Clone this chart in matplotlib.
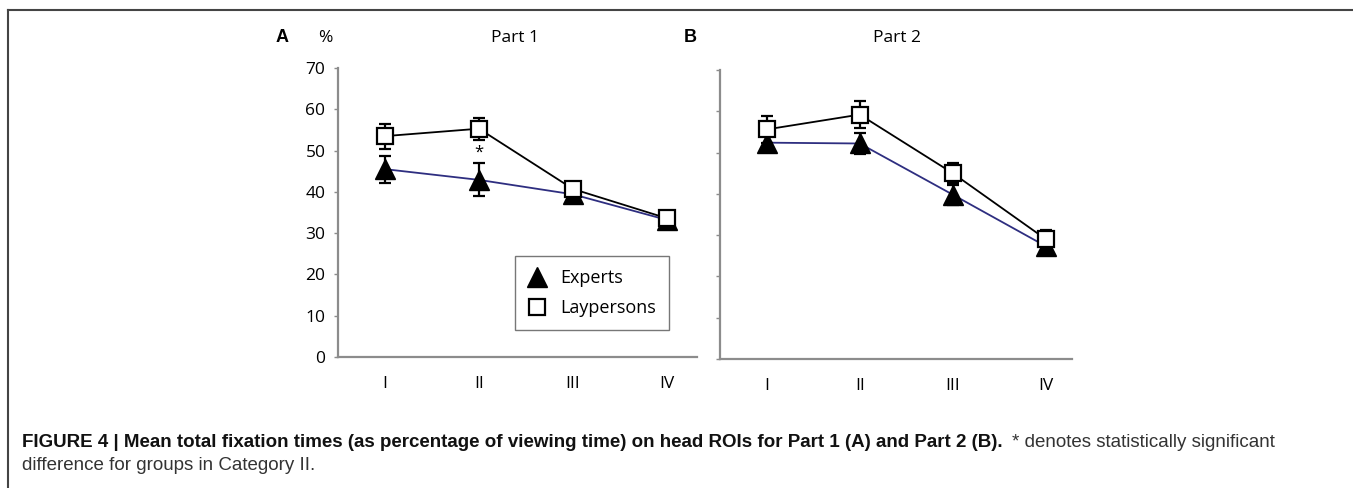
import matplotlib
matplotlib.use("Agg")
from matplotlib import pyplot as plt
from matplotlib.lines import Line2D

categories = ["I", "II", "III", "IV"]

# Part 1
p1_experts = [45.5, 42.9, 39.4, 33.2]
p1_experts_err = [3.3, 4.0, 1.0, 0.7]
p1_lay = [53.5, 55.3, 40.7, 33.6]
p1_lay_err = [3.0, 2.7, 1.0, 0.8]

# Part 2
p2_experts = [52.4, 52.2, 39.8, 27.3]
p2_experts_err = [2.3, 2.6, 2.4, 1.0]
p2_lay = [55.6, 59.2, 45.0, 29.0]
p2_lay_err = [3.2, 3.2, 2.4, 2.2]

W, H = 1353, 488
FONT = ["Open Sans", "DejaVu Sans"]
SPINE = "#8c8c8c"
NAVY = "#2e2e80"


def px(x0, y_top, x1, y_bot):
    return [x0 / W, 1 - y_bot / H, (x1 - x0) / W, (y_bot - y_top) / H]


def draw_panel(ax, experts, experts_err, lay, lay_err, xmax, labels):
    x = list(range(1, len(categories) + 1))
    ax.errorbar(x, experts, yerr=experts_err, color=NAVY, lw=1.3, ecolor="black",
                elinewidth=1.6, capsize=4, capthick=1.6, marker="^", ms=14,
                mfc="black", mec="black", zorder=3)
    ax.errorbar(x, lay, yerr=lay_err, color="black", lw=1.3, ecolor="black",
                elinewidth=1.6, capsize=4, capthick=1.6, marker="s", ms=11,
                mfc="white", mec="black", mew=1.6, zorder=4)
    ax.set_xlim(0.5, xmax)
    ax.set_ylim(0, 70)
    ax.set_yticks(range(0, 71, 10))
    ax.set_xticks(x)
    ax.set_xticklabels(categories, fontsize=12.5, family=FONT)
    ax.tick_params(axis="x", length=0, pad=14)
    ax.tick_params(axis="y", length=3, width=1, color=SPINE, direction="out", pad=6)
    if labels:
        ax.set_yticklabels([str(v) for v in range(0, 71, 10)], fontsize=12.5, family=FONT)
    else:
        ax.set_yticklabels([])
    for s in ["top", "right"]:
        ax.spines[s].set_visible(False)
    for s in ["left", "bottom"]:
        ax.spines[s].set_color(SPINE)
        ax.spines[s].set_linewidth(1.6)
    ax.set_facecolor("none")


def main():
    fig = plt.figure(figsize=(W / 100, H / 100), dpi=100)

    ax1 = fig.add_axes(px(338, 68, 697, 357))
    draw_panel(ax1, p1_experts, p1_experts_err, p1_lay, p1_lay_err, 4.32, True)
    ax1.text(2, 49.4, "*", ha="center", va="center", fontsize=12, family=FONT)

    ax2 = fig.add_axes(px(720, 70, 1072, 359))
    draw_panel(ax2, p2_experts, p2_experts_err, p2_lay, p2_lay_err, 4.28, False)

    handles = [
        Line2D([], [], ls="none", marker="^", ms=14, mfc="black", mec="black"),
        Line2D([], [], ls="none", marker="s", ms=11, mfc="white", mec="black", mew=1.6),
    ]
    leg = ax1.legend(handles, ["Experts", "Laypersons"], loc="lower right",
                     bbox_to_anchor=(0.922, 0.093), borderaxespad=0, frameon=True,
                     fancybox=False, prop={"family": FONT, "size": 13},
                     handlelength=1.0, handletextpad=0.8, borderpad=0.7,
                     labelspacing=0.7)
    leg.get_frame().set_edgecolor("#555555")
    leg.get_frame().set_linewidth(1.0)

    # panel labels and titles
    def ftext(xp, yp, s, **kw):
        fig.text(xp / W, 1 - yp / H, s, va="center", **kw)

    ftext(282, 38, "A", ha="center", fontsize=13, fontweight="bold", family=["Liberation Sans", "DejaVu Sans"])
    ftext(325, 38, "%", ha="center", fontsize=12.5, family=FONT)
    ftext(515, 38, "Part 1", ha="center", fontsize=12.5, family=FONT)
    ftext(690, 38, "B", ha="center", fontsize=13, fontweight="bold", family=["Liberation Sans", "DejaVu Sans"])
    ftext(897, 38, "Part 2", ha="center", fontsize=12.5, family=FONT)

    # frame lines (top and left)
    fig.add_artist(Line2D([8 / W, 1], [1 - 10 / H, 1 - 10 / H], color="#444444", lw=1.5))
    fig.add_artist(Line2D([8 / W, 8 / W], [0, 1 - 10 / H], color="#444444", lw=1.5))

    # caption
    cap_font = ["Liberation Sans", "DejaVu Sans"]
    bold = fig.text(22 / W, 1 - 447 / H,
                    "FIGURE 4 | Mean total fixation times (as percentage of viewing time) "
                    "on head ROIs for Part 1 (A) and Part 2 (B).",
                    fontsize=13.5, fontweight="bold", family=cap_font, color="#111111",
                    va="baseline")
    fig.canvas.draw()
    bb = bold.get_window_extent()
    fig.text((bb.x1 + 9) / W, 1 - 447 / H,
             "* denotes statistically significant",
             fontsize=13.5, family=cap_font, color="#333333", va="baseline")
    fig.text(22 / W, 1 - 470 / H, "difference for groups in Category II.",
             fontsize=13.5, family=cap_font, color="#333333", va="baseline")

    fig.savefig("out.png", dpi=100)


if __name__ == "__main__":
    main()
